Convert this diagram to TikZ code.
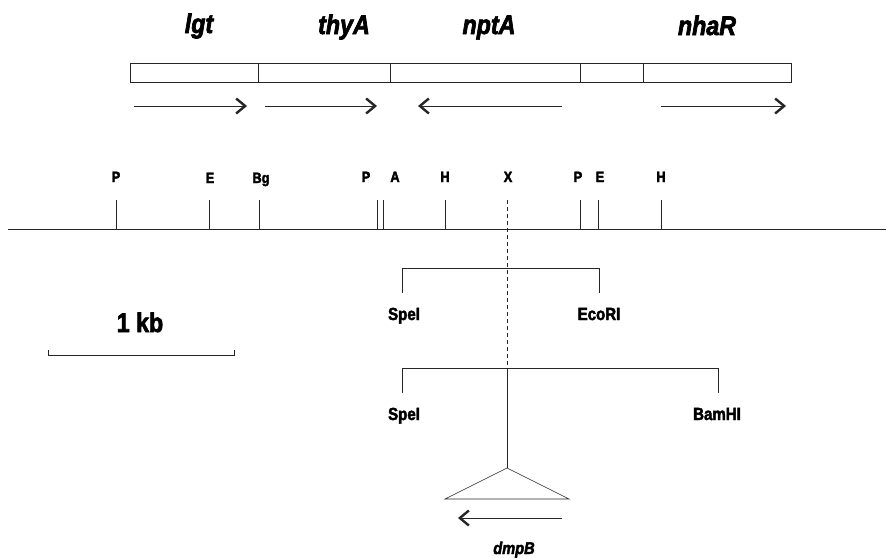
\documentclass[tikz,border=0pt]{standalone}
\usepackage{fontspec}
\setmainfont{Liberation Sans}
\newfontfamily\heavyfont{Liberation Sans}[FakeBold=2.5, FakeStretch=0.86]
\usetikzlibrary{arrows.meta}
\tikzset{
  ln/.style={line width=0.6pt, draw=black!85},
  gene/.style={font=\heavyfont\fontsize{27}{27}\selectfont\bfseries\itshape, inner sep=0pt, anchor=base},
  site/.style={font=\heavyfont\fontsize{15}{15}\selectfont\bfseries, inner sep=0pt, anchor=base},
  enz/.style={font=\heavyfont\fontsize{17.5}{17.5}\selectfont\bfseries, inner sep=0pt, anchor=base},
  dirarrow/.style={ln, -{Straight Barb[length=9pt,width=15pt,line width=2.4pt]}},
}
\begin{document}
\begin{tikzpicture}[x=1pt,y=-1pt]
\useasboundingbox (0,0) rectangle (886,557);
% gene names
\node[gene] (lgt) at (199,33) {lgt};
\node[gene] (thyA) at (344,34) {thyA};
\node[gene] (nptA) at (489,34) {nptA};
\node[gene] (nhaR) at (707,35) {nhaR};
% gene box
\draw[ln] (130,63) rectangle (791,82);
\foreach \x in {258,390,580,643} \draw[ln] (\x,63) -- (\x,82);
% direction arrows
\coordinate (a1s) at (134,106); \coordinate (a1e) at (247,106);
\coordinate (a2s) at (265,106); \coordinate (a2e) at (377,106);
\coordinate (a3s) at (562,106); \coordinate (a3e) at (418,106);
\coordinate (a4s) at (661,106); \coordinate (a4e) at (786,106);
\draw[dirarrow] (a1s) -- (a1e);
\draw[dirarrow] (a2s) -- (a2e);
\draw[dirarrow] (a3s) -- (a3e);
\draw[dirarrow] (a4s) -- (a4e);
% restriction map
\coordinate (mapL) at (8,229); \coordinate (mapR) at (886,229);
\draw[ln] (mapL) -- (mapR);
\foreach \x in {116,209,259,377,383,445,580,598,661} \draw[ln] (\x,200) -- (\x,229);
\node[site] (sP1) at (116,182) {P};
\node[site] (sE1) at (210,183) {E};
\node[site] (sBg) at (261,183) {Bg};
\node[site] (sP2) at (366,182) {P};
\node[site] (sA) at (395,182) {A};
\node[site] (sH1) at (445,182) {H};
\node[site] (sX) at (508,182) {X};
\node[site] (sP3) at (578,182) {P};
\node[site] (sE2) at (600,182) {E};
\node[site] (sH2) at (661,182) {H};
% insertion line
\coordinate (xtop) at (507,200);
\coordinate (xmid) at (507,368);
\coordinate (apex) at (507,468);
\draw[ln, dash pattern=on 4pt off 3pt] (xtop) -- (xmid);
\draw[ln] (xmid) -- (apex);
% brackets
\draw[ln] (402,293) -- (402,268) -- (599,268) -- (599,293);
\node[enz] (spe1) at (404,320) {SpeI};
\node[enz] (eco) at (599,320) {EcoRI};
\draw[ln] (402,393) -- (402,368) -- (718,368) -- (718,393);
\node[enz] (spe2) at (404,420) {SpeI};
\node[enz] (bam) at (717,420) {BamHI};
% scale bar
\node[font=\heavyfont\fontsize{27}{27}\selectfont\bfseries, inner sep=0pt, anchor=base] (kb) at (140,332) {1 kb};
\draw[ln] (48,350) -- (48,355) -- (234,355) -- (234,350);
% transposon triangle
\draw[ln] (apex) -- (445,499) -- (569,499) -- cycle;
\coordinate (dS) at (562,518); \coordinate (dE) at (458,518);
\draw[dirarrow] (dS) -- (dE);
\node[font=\heavyfont\fontsize{17}{17}\selectfont\bfseries\itshape, inner sep=0pt, anchor=base] (dmpB) at (514,554) {dmpB};
\end{tikzpicture}
\end{document}
